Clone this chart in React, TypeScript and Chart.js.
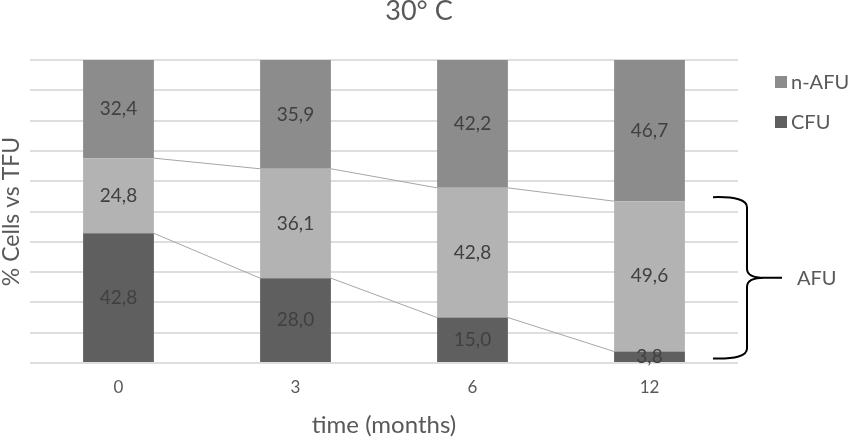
import React, { useEffect, useRef } from "react";
import { Chart, registerables } from "chart.js";

Chart.register(...registerables);

// time points (months)
const months = ["0", "3", "6", "12"];
// % of TFU per fraction, bottom to top
const cfu = [42.8, 28.0, 15.0, 3.8];
const afu = [24.8, 36.1, 42.8, 49.6];
const nAfu = [32.4, 35.9, 42.2, 46.7];
const yTicks = [0, 10, 20, 30, 40, 50, 60, 70, 80, 90, 100];

const TEXT = "#595959";
const FONT = "Lato";

const fmt = (v: number) => v.toFixed(1).replace(".", ",");

// series lines, value labels, legend and the AFU brace
const decorPlugin = {
    id: "decor",
    afterDatasetsDraw(chart: any) {
        const { ctx, chartArea } = chart;
        ctx.save();

        // series lines between bars (top of CFU and top of AFU)
        ctx.strokeStyle = "#a6a6a6";
        ctx.lineWidth = 1;
        [0, 1].forEach(di => {
            const els = chart.getDatasetMeta(di).data;
            for (let j = 0; j < els.length - 1; j++) {
                const a = els[j], b = els[j + 1];
                ctx.beginPath();
                ctx.moveTo(a.x + a.width / 2, a.y);
                ctx.lineTo(b.x - b.width / 2, b.y);
                ctx.stroke();
            }
        });

        // value labels
        ctx.fillStyle = "#404040";
        ctx.font = `19px ${FONT}`;
        ctx.textAlign = "center";
        ctx.textBaseline = "middle";
        chart.data.datasets.forEach((ds: any, di: number) => {
            chart.getDatasetMeta(di).data.forEach((el: any, j: number) => {
                ctx.fillText(fmt(ds.data[j]), el.x, (el.y + el.base) / 2);
            });
        });

        // legend (n-AFU and CFU only)
        const items = [2, 0];
        ctx.font = `20px ${FONT}`;
        ctx.textAlign = "left";
        items.forEach((di, k) => {
            const ds = chart.data.datasets[di];
            const cy = 82 + k * 40;
            ctx.fillStyle = ds.backgroundColor;
            ctx.fillRect(chartArea.right + 37, cy - 6, 12, 12);
            ctx.fillStyle = TEXT;
            ctx.fillText(ds.label, chartArea.right + 53, cy + 1);
        });

        // brace over AFU + CFU of the last bar
        const last = chart.getDatasetMeta(1).data[months.length - 1];
        const top = last.y - 4;
        const bottom = last.base + 7;
        const mid = (top + bottom) / 2;
        const r = chartArea.right;
        const xL = r - 25, xV = r + 9, xT = r + 26, xE = r + 44;
        ctx.strokeStyle = "#000000";
        ctx.lineWidth = 2;
        ctx.beginPath();
        ctx.moveTo(xL, top);
        ctx.quadraticCurveTo(xV, top - 1, xV, top + 10);
        ctx.lineTo(xV, mid - 9);
        ctx.quadraticCurveTo(xV, mid, xT, mid);
        ctx.lineTo(xE, mid);
        ctx.moveTo(xT, mid);
        ctx.quadraticCurveTo(xV, mid, xV, mid + 9);
        ctx.lineTo(xV, bottom - 10);
        ctx.quadraticCurveTo(xV, bottom + 1, xL, bottom);
        ctx.stroke();

        ctx.fillStyle = TEXT;
        ctx.font = `20px ${FONT}`;
        ctx.fillText("AFU", r + 59, mid + 1);

        ctx.restore();
    },
};

const StackedChart: React.FC = () => {
    const chartRef = useRef<HTMLCanvasElement | null>(null);
    const chartInstanceRef = useRef<Chart | null>(null);

    useEffect(() => {
        if (!chartRef.current) return;
        const ctx = chartRef.current.getContext("2d");
        if (!ctx) return;

        if (chartInstanceRef.current) {
            chartInstanceRef.current.destroy();
        }

        Chart.defaults.font.family = FONT;

        chartInstanceRef.current = new Chart(ctx, {
            type: "bar",
            data: {
                labels: months,
                datasets: [
                    { label: "CFU", data: cfu, backgroundColor: "#5f5f5f" },
                    { label: "AFU", data: afu, backgroundColor: "#b3b3b3" },
                    { label: "n-AFU", data: nAfu, backgroundColor: "#8c8c8c" },
                ],
            },
            options: {
                animation: false,
                responsive: true,
                maintainAspectRatio: false,
                datasets: {
                    bar: { barPercentage: 0.4, categoryPercentage: 1 },
                },
                layout: { padding: { left: 0, right: 13, top: 0, bottom: 0 } },
                plugins: {
                    legend: { display: false },
                    tooltip: { enabled: false },
                    title: {
                        display: true,
                        text: "30° C",
                        color: TEXT,
                        font: { size: 27, weight: "normal", lineHeight: 0.85 },
                        padding: { top: 0, bottom: 37.05 },
                    },
                },
                scales: {
                    x: {
                        stacked: true,
                        grid: { display: false, drawTicks: false },
                        border: { display: false },
                        ticks: { color: TEXT, font: { size: 17 }, padding: 14 },
                        title: {
                            display: true,
                            text: "time (months)",
                            color: TEXT,
                            font: { size: 24, lineHeight: 1 },
                            padding: { top: 1.6, bottom: 2 },
                        },
                    },
                    y: {
                        stacked: true,
                        min: 0,
                        max: 100,
                        afterBuildTicks: (scale: any) => {
                            scale.ticks = yTicks.map(v => ({ value: v }));
                        },
                        grid: { color: "#dedede", lineWidth: 2, drawTicks: false },
                        border: { display: false },
                        ticks: { display: false },
                        title: {
                            display: true,
                            text: "% Cells vs TFU",
                            color: TEXT,
                            font: { size: 23, lineHeight: 1 },
                            padding: { top: 0, bottom: 7 },
                        },
                    },
                    // keeps room on the right for the legend and the brace
                    side: {
                        type: "linear",
                        position: "right",
                        display: true,
                        grid: { display: false, drawTicks: false },
                        border: { display: false },
                        ticks: { display: false },
                        afterFit: (scale: any) => {
                            scale.width = 100;
                        },
                    },
                },
            },
            plugins: [decorPlugin],
        });

        return () => {
            if (chartInstanceRef.current) {
                chartInstanceRef.current.destroy();
                chartInstanceRef.current = null;
            }
        };
    }, []);

    return (
        <div style={{ position: "absolute", left: 0, top: 0, width: "851px", height: "439px", background: "#ffffff" }}>
            <canvas ref={chartRef}></canvas>
        </div>
    );
};

export default function App() {
    return <StackedChart />;
}
